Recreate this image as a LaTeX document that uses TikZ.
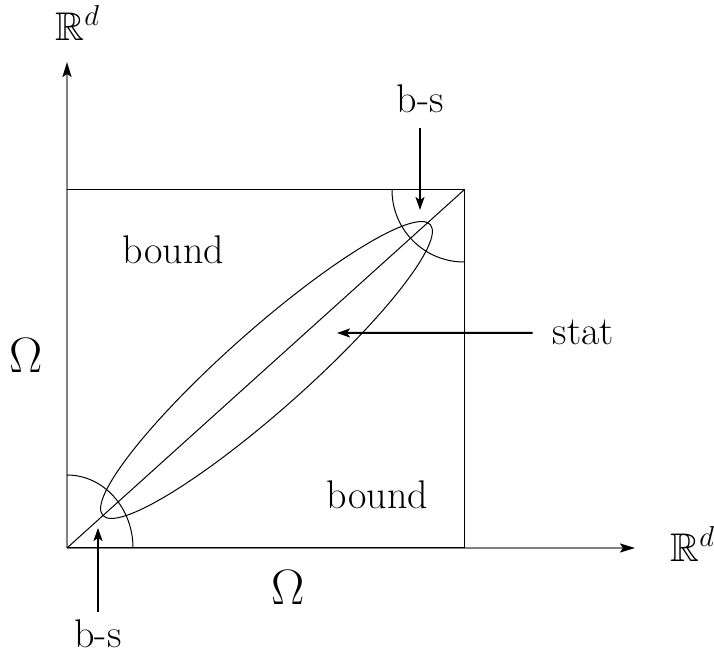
\documentclass[tikz,border=0pt]{standalone}
\usepackage{amsmath,amssymb}
\usetikzlibrary{arrows.meta}

\begin{document}
\begin{tikzpicture}[x=0.5pt, y=0.5pt, every node/.style={font=\fontsize{20}{24}\selectfont, inner sep=0pt}, >={Stealth[length=6.5pt, width=4.5pt, inset=1.5pt]}]
	\useasboundingbox (0,0) rectangle (714,658);
	\coordinate (O) at (67,110);
	\coordinate (C) at (464,468);
	\coordinate (xend) at (635,110);
	\coordinate (yend) at (67,596);
	% axes
	\draw[black!50, line width=1pt, -{Stealth[black, length=7.5pt, width=4.5pt, inset=1.5pt]}] (O) -- (xend);
	\draw[black!50, line width=1pt, -{Stealth[black, length=7.5pt, width=4.5pt, inset=1.5pt]}] (O) -- (yend);
	% square, diagonal, corner arcs, ellipse
	\draw[line width=0.5pt] (O) -- (O -| C) -- (C) -- (C -| O);
	\draw[line width=0.5pt] (O) -- (C);
	\draw[line width=0.5pt] (133,110) arc[start angle=0, end angle=90, x radius=66, y radius=73];
	\draw[line width=0.5pt] (392,468) arc[start angle=180, end angle=270, radius=72];
	\draw[line width=0.5pt, rotate around={41.6:(266.5,288)}] (266.5,288) ellipse[x radius=219, y radius=40];
	% labels
	\node[anchor=base west] (Rtop) at (55,617) {$\mathbb{R}^d$};
	\node[anchor=base west] (Rright) at (670,96) {$\mathbb{R}^d$};
	\node[anchor=base, font=\fontsize{23}{27}\selectfont] (omegaL) at (26,285) {$\Omega$};
	\node[anchor=base, font=\fontsize{23}{27}\selectfont] (omegaB) at (288,53) {$\Omega$};
	\node[anchor=base] (boundA) at (173.5,394) {bound};
	\node[anchor=base] (boundB) at (377.5,149) {bound};
	\node[anchor=base] (bsTop) at (420,545) {b-s};
	\node[anchor=base] (bsBot) at (98,10) {b-s};
	\node[anchor=base] (stat) at (583.5,313) {stat};
	% pointers
	\coordinate (bsTopTip) at (420,448);
	\coordinate (bsBotTip) at (98,130);
	\coordinate (statTip) at (337,325);
	\draw[->, line width=1pt, shorten <=7pt] (bsTop.south) -- (bsTopTip);
	\draw[->, line width=1pt, shorten <=4pt] (bsBot.north) -- (bsBotTip);
	\draw[->, line width=1pt, shorten <=10pt] (stat.west) -- (statTip);
\end{tikzpicture}
\end{document}
